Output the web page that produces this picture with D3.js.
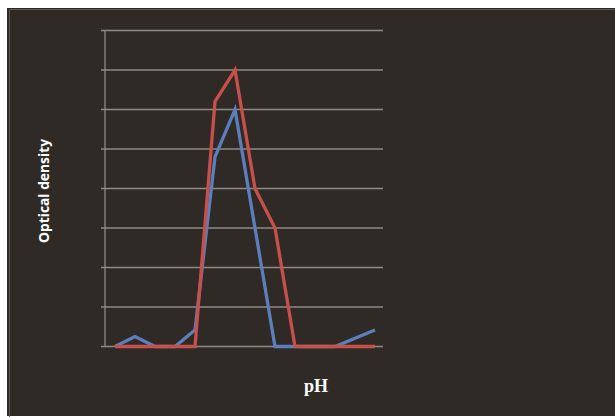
<!DOCTYPE html>
<html><head><meta charset="utf-8">
<script src="https://cdn.jsdelivr.net/npm/d3@7"></script>
<style>html,body{margin:0;padding:0;background:#fff;}svg{display:block;}</style>
</head><body>
<script>
const categories = ["1","2","3","4","5","6","7","8","9","10","11","12","13","14"];
const seriesBlue = [0, 0.025, 0, 0, 0.042, 0.48, 0.60, 0.30, 0, 0, 0, 0, 0.021, 0.042];
const seriesRed  = [0, 0, 0, 0, 0, 0.62, 0.70, 0.40, 0.30, 0, 0, 0, 0, 0];
const yTicks = [0, 0.1, 0.2, 0.3, 0.4, 0.5, 0.6, 0.7, 0.8];

(function () {
const W = 615, H = 417;
const svg = d3.select("body").append("svg").attr("width", W).attr("height", H);

svg.append("rect").attr("x", 7).attr("y", 8).attr("width", W - 7).attr("height", 408).attr("fill", "#2f2a26");
svg.append("rect").attr("x", 9.5).attr("y", 9.5).attr("width", W).attr("height", 420)
  .attr("fill", "none").attr("stroke", "#5e5852").attr("stroke-width", 1);

const pL = 105, pR = 385, pT = 30.5, pB = 346.5;
const x = d3.scaleBand().domain(categories).range([pL, pR]);
const y = d3.scaleLinear().domain([0, 0.8]).range([pB, pT]);

svg.append("g").selectAll("line").data(yTicks).join("line")
  .attr("x1", pL - 4).attr("x2", pR - 2)
  .attr("y1", d => y(d)).attr("y2", d => y(d))
  .attr("stroke", "#8f8a84").attr("stroke-width", 1.3);

svg.append("line").attr("x1", pL).attr("x2", pL).attr("y1", pT).attr("y2", pB)
  .attr("stroke", "#8f8a84").attr("stroke-width", 1.3);

const line = d3.line().x((d, i) => x(categories[i]) + x.bandwidth() / 2).y(d => y(d));

svg.append("path").datum(seriesBlue).attr("d", line)
  .attr("fill", "none").attr("stroke", "#5b7fbd").attr("stroke-width", 3.3).attr("stroke-linejoin", "miter");
svg.append("path").datum(seriesRed).attr("d", line)
  .attr("fill", "none").attr("stroke", "#c8504a").attr("stroke-width", 3.3).attr("stroke-linejoin", "miter");

svg.append("text").attr("transform", "translate(49,191) rotate(-90)")
  .attr("text-anchor", "middle").attr("fill", "#ffffff")
  .attr("font-family", "'Open Sans', sans-serif").attr("font-weight", "bold").attr("font-size", 13.8)
  .text("Optical density");

svg.append("text").attr("x", 316).attr("y", 392)
  .attr("text-anchor", "middle").attr("fill", "#ffffff")
  .attr("font-family", "'Liberation Serif', serif").attr("font-weight", "bold").attr("font-size", 18)
  .text("pH");
})();
</script>
</body></html>
